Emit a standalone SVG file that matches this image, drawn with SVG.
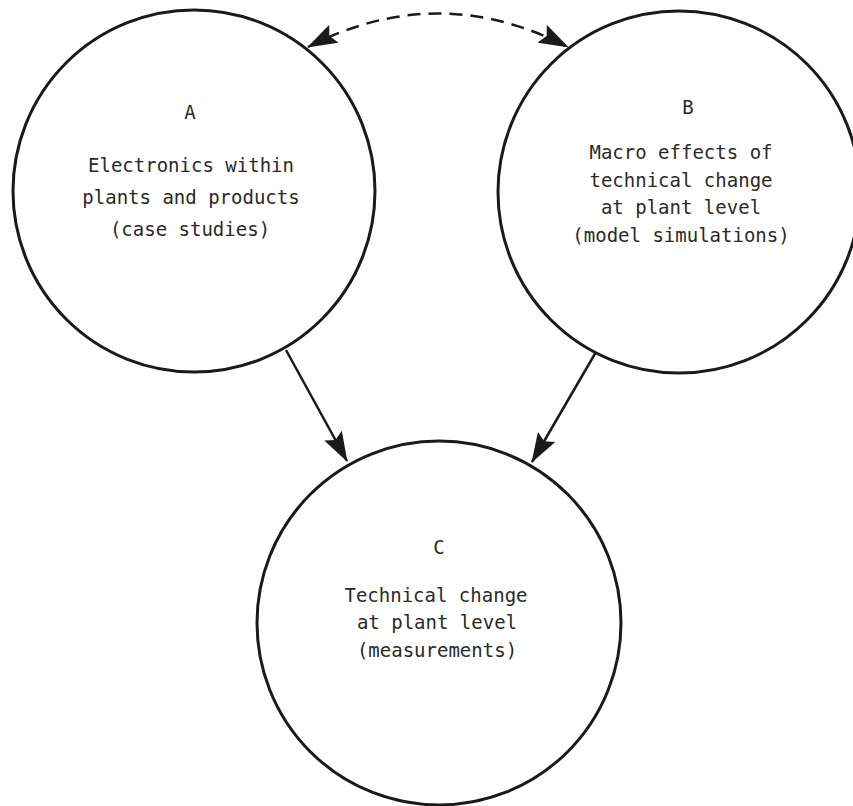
<svg xmlns="http://www.w3.org/2000/svg" width="853" height="806" viewBox="0 0 853 806">
<style>
.node circle { fill: none; stroke: #1a1a1a; stroke-width: 3; }
.node text { font-family: "DejaVu Sans Mono", "Liberation Mono", monospace; font-size: 19px; fill: #2a2a2a; text-anchor: middle; }
.edge { fill: none; stroke: #1a1a1a; stroke-width: 2.5; }
.dash { stroke-dasharray: 13 8; }
</style>
<defs>
<marker id="arrow" viewBox="0 0 30 20" refX="29" refY="10" markerWidth="30" markerHeight="20" markerUnits="userSpaceOnUse" orient="auto-start-reverse">
<path d="M0,0 L30,10 L0,20 L5,10 Z" fill="#1a1a1a" stroke="none"/>
</marker>
</defs>
<rect width="853" height="806" fill="#fff"/>
<g id="connectors">
<path class="edge dash" d="M308,47 Q438,-20 568,47" marker-start="url(#arrow)" marker-end="url(#arrow)"/>
<path class="edge" d="M286,350 L347,461" marker-end="url(#arrow)"/>
<path class="edge" d="M596,352 L532,462" marker-end="url(#arrow)"/>
</g>
<g id="nodeA" class="node">
<circle cx="194" cy="191" r="181"/>
<text x="190" y="119">A</text>
<text x="191" y="172">Electronics within</text>
<text x="191" y="204">plants and products</text>
<text x="190" y="236">(case studies)</text>
</g>
<g id="nodeB" class="node">
<circle cx="679" cy="192" r="181"/>
<text x="688" y="114">B</text>
<text x="681" y="159">Macro effects of</text>
<text x="681" y="187">technical change</text>
<text x="681" y="214">at plant level</text>
<text x="681" y="242">(model simulations)</text>
</g>
<g id="nodeC" class="node">
<circle cx="439" cy="623" r="182"/>
<text x="439" y="554">C</text>
<text x="436" y="602">Technical change</text>
<text x="437" y="629">at plant level</text>
<text x="437" y="657">(measurements)</text>
</g>
</svg>
